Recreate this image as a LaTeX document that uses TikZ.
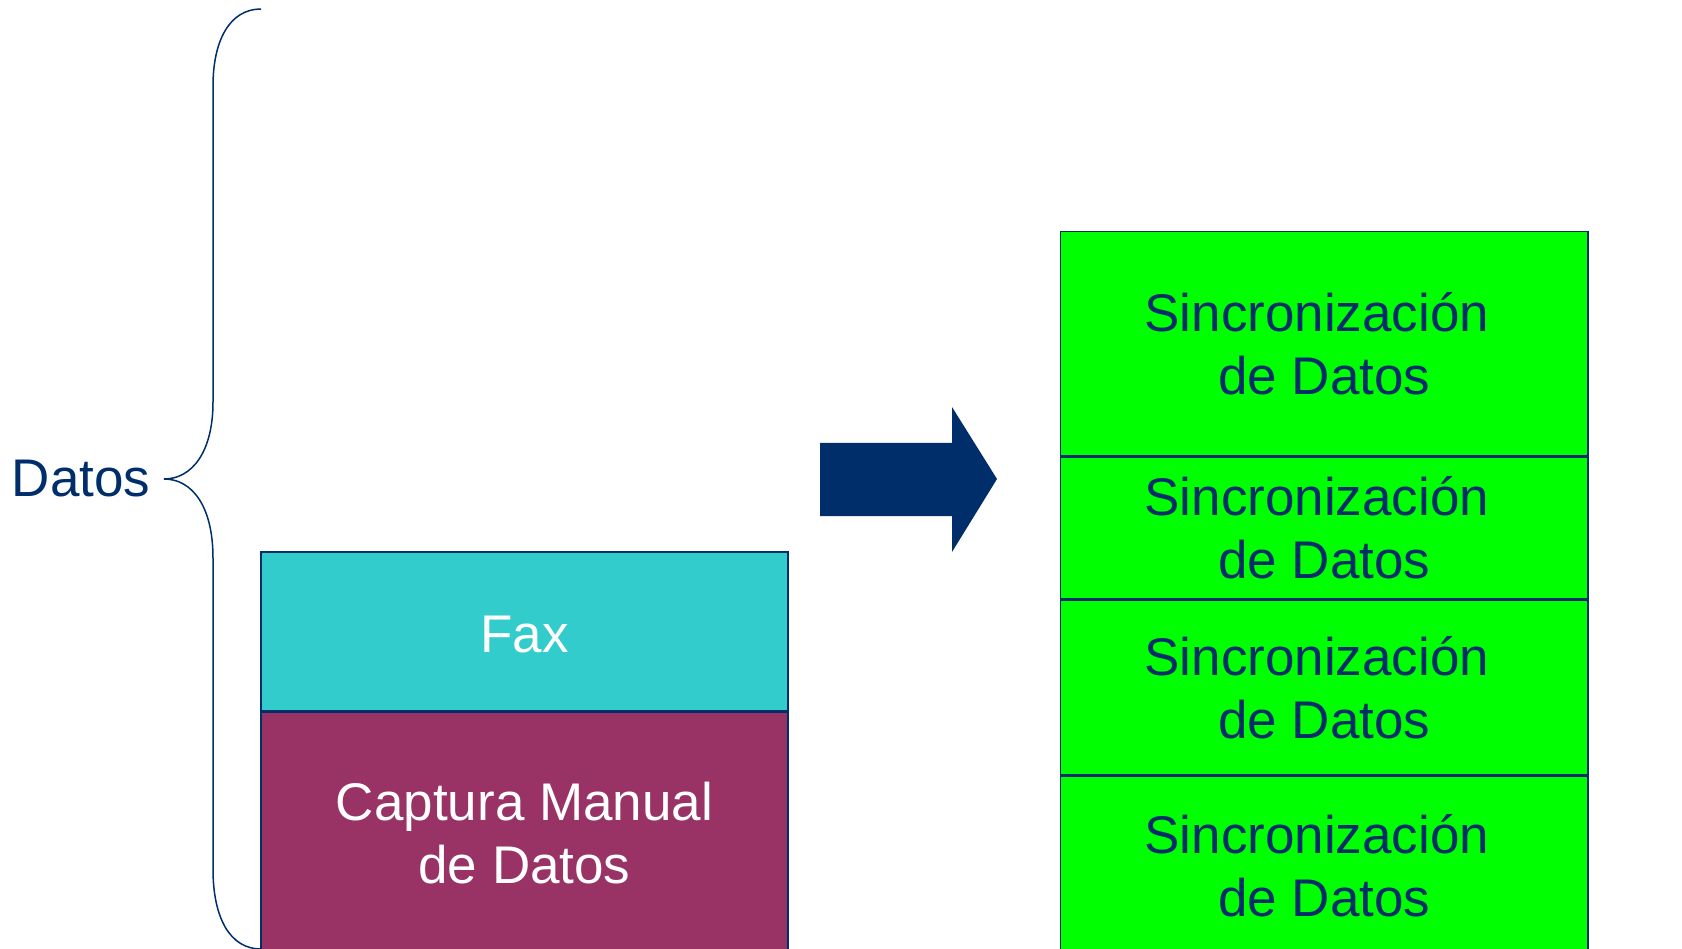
\documentclass[tikz,border=0pt]{standalone}
\usepackage{fontspec}
\setmainfont{Liberation Sans}
\usetikzlibrary{positioning}
\definecolor{azulmarino}{RGB}{0,46,107}
\definecolor{turquesa}{RGB}{51,204,204}
\definecolor{vino}{RGB}{153,51,102}
\definecolor{verde}{RGB}{0,255,0}
\tikzset{
    caja/.style={draw=azulmarino, line width=1.5pt, inner sep=0pt, align=center,
        font=\fontsize{53}{63}\selectfont},
    sincro/.style={caja, fill=verde, text=azulmarino, minimum width=527.5pt},
}
\newcommand{\textosincro}{Sincronización\kern0.278em\\de Datos}
\begin{document}
\begin{tikzpicture}[x=1pt,y=-1pt]
    \useasboundingbox (0,0) rectangle (1682,949);
    \clip (0,0) rectangle (1682,949);
    % llave
    \draw [azulmarino, line width=1.5pt] (261,9) .. controls (230,9) and (213,40) .. (213,86)
        -- (213,402) .. controls (213,452) and (192,479) .. (164,479)
        .. controls (192,479) and (213,506) .. (213,558)
        -- (213,869) .. controls (213,918) and (230,949) .. (261,949);
    \node[text=azulmarino, font=\fontsize{53}{63}\selectfont] (datos) at (81,479) {Datos};
    % entrada
    \node[caja, fill=turquesa, text=white, minimum width=527pt, minimum height=159pt] (fax) at (524.5,631.5) {\raisebox{-3pt}[\height][\depth]{Fax}};
    \node[caja, fill=vino, text=white, minimum width=527pt, minimum height=245pt, below=0pt of fax] (captura) {\raisebox{2pt}[\height][\depth]{Captura Manual}\\\raisebox{2pt}[\height][\depth]{de Datos}};
    % flecha
    \fill [azulmarino] (820,443) -- (952,443) -- (952,407) -- (997,479) -- (952,552) -- (952,516) -- (820,516) -- cycle;
    % salida
    \node[sincro, minimum height=224pt] (sincro1) at (1324.25,343.6) {\textosincro};
    \node[sincro, minimum height=142pt, below=0pt of sincro1] (sincro2) {\textosincro};
    \node[sincro, minimum height=174pt, below=0pt of sincro2] (sincro3) {\textosincro};
    \node[sincro, minimum height=180pt, below=0pt of sincro3] (sincro4) {\textosincro};
\end{tikzpicture}
\end{document}
